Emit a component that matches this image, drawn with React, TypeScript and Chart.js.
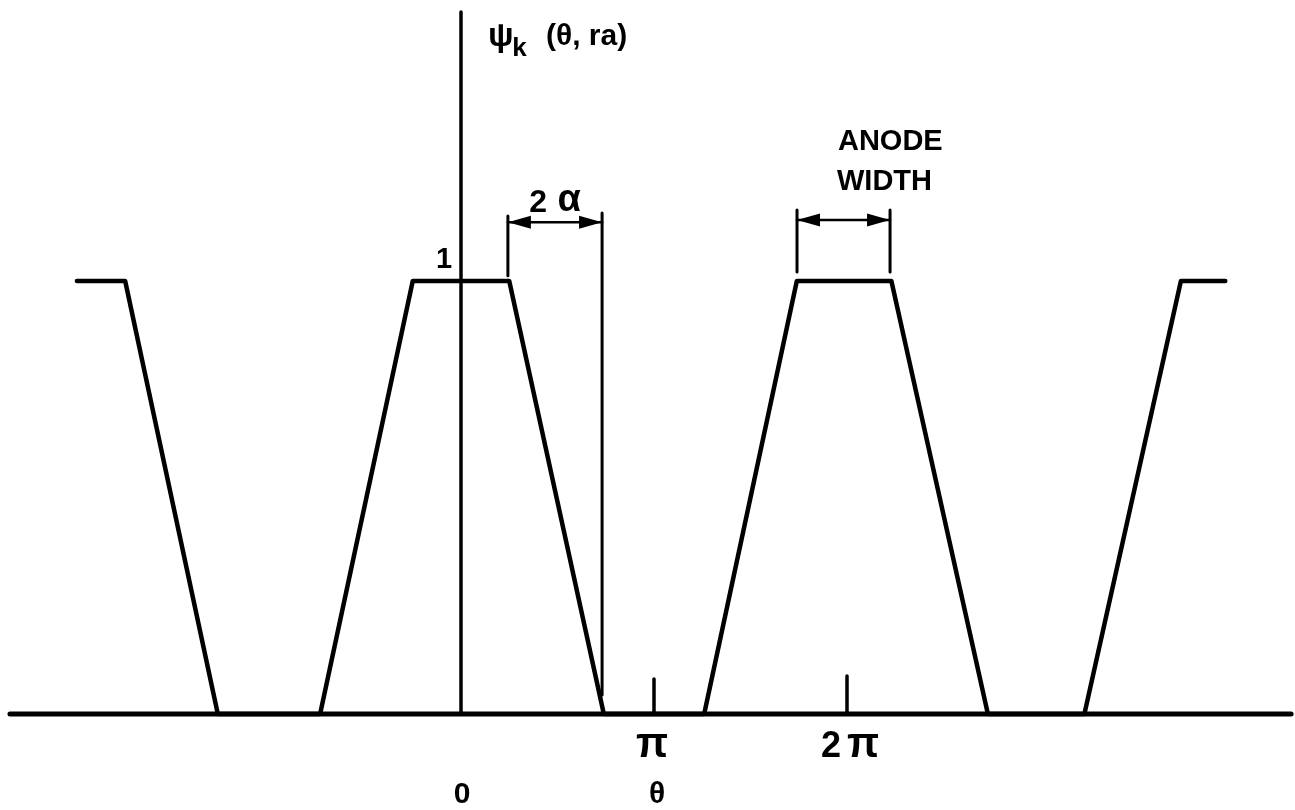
import React, { useEffect, useRef } from "react";
import { Chart, registerables } from "chart.js";

Chart.register(...registerables);

// θ expressed in units of π, ψ normalised (top of anode = 1)
const waveTheta = [-1.99, -1.74, -1.26, -0.73, -0.25, 0.25, 0.74, 1.26, 1.74, 2.23, 2.73, 3.23, 3.73, 3.96];
const wavePsi = [1, 1, 0, 0, 1, 1, 0, 0, 1, 1, 0, 0, 1, 1];

const thetaAxisRange = [-2.337, 4.301];
const psiAxisTop = 1.621;

const tickTheta = [1, 2];
const tickTop = [0.081, 0.088];
const tickCoef = ["", "2"];
const tickSymbol = ["π", "π"];

// dimension markers: 2α (edge slope width) and anode width
const alphaTheta = [0.243, 0.731];
const alphaLeftSpan = [1.012, 1.15];
const alphaRightSpan = [0.044, 1.157];
const alphaArrowPsi = 1.136;

const anodeTheta = [1.741, 2.223];
const anodeSpan = [1.021, 1.164];
const anodeArrowPsi = 1.141;

const X_MIN = -2.3886;
const X_MAX = 4.3212;
const Y_MIN = -0.2217;
const Y_MAX = 1.649;

const FONT = '"Liberation Sans", Arial, sans-serif';

type Label = { text: string; x: number; y: number; size: number; align: CanvasTextAlign };

const labels: Label[] = [
  { text: "ψ", x: 0.14, y: 1.543, size: 34, align: "left" },
  { text: "k", x: 0.266, y: 1.52, size: 26, align: "left" },
  { text: "(θ, ra)", x: 0.44, y: 1.545, size: 30, align: "left" },
  { text: "1", x: -0.088, y: 1.03, size: 29, align: "center" },
  { text: "2", x: 0.4, y: 1.159, size: 32, align: "center" },
  { text: "α", x: 0.56, y: 1.162, size: 38, align: "center" },
  { text: "ANODE", x: 1.953, y: 1.303, size: 29, align: "left" },
  { text: "WIDTH", x: 1.948, y: 1.21, size: 29, align: "left" },
  { text: "0", x: 0.005, y: -0.2055, size: 30, align: "center" },
  { text: "θ", x: 1.016, y: -0.2055, size: 30, align: "center" },
];

const seg = (pts: number[][]) => pts.map(([x, y]) => ({ x, y }));

const annotPlugin = {
  id: "annot",
  afterDatasetsDraw(chart: any) {
    const { ctx, scales } = chart;
    const px = (v: number) => scales.x.getPixelForValue(v);
    const py = (v: number) => scales.y.getPixelForValue(v);
    ctx.save();
    ctx.fillStyle = "#000";
    const head = (tipX: number, yy: number, dir: number) => {
      ctx.beginPath();
      ctx.moveTo(tipX, yy);
      ctx.lineTo(tipX + dir * 23, yy - 6.5);
      ctx.lineTo(tipX + dir * 23, yy + 6.5);
      ctx.closePath();
      ctx.fill();
    };
    head(px(alphaTheta[0]), py(alphaArrowPsi), 1);
    head(px(alphaTheta[1]), py(alphaArrowPsi), -1);
    head(px(anodeTheta[0]), py(anodeArrowPsi), 1);
    head(px(anodeTheta[1]), py(anodeArrowPsi), -1);

    ctx.textBaseline = "alphabetic";
    for (const l of labels) {
      ctx.font = `bold ${l.size}px ${FONT}`;
      ctx.textAlign = l.align;
      ctx.fillText(l.text, px(l.x), py(l.y));
    }
    // tick labels: coefficient + π, centred on the tick
    ctx.textAlign = "left";
    const base = py(-0.099);
    const coefFont = `bold 36px ${FONT}`;
    const symFont = `bold 42px ${FONT}`;
    tickTheta.forEach((t, i) => {
      ctx.font = coefFont;
      const cw = tickCoef[i] ? ctx.measureText(tickCoef[i]).width + 6 : 0;
      ctx.font = symFont;
      const sw = ctx.measureText(tickSymbol[i]).width;
      const start = px(t) - (cw + sw) / 2 + (tickCoef[i] ? 3 : -2);
      if (tickCoef[i]) {
        ctx.font = coefFont;
        ctx.fillText(tickCoef[i], start, base);
      }
      ctx.font = symFont;
      ctx.fillText(tickSymbol[i], start + cw, base);
    });
    ctx.restore();
  },
};

export default function App() {
  const ref = useRef<HTMLCanvasElement | null>(null);
  useEffect(() => {
    document.body.style.margin = "0";
    const black = "#000";
    const line = (data: any[], width: number) => ({
      data,
      showLine: true,
      borderColor: black,
      backgroundColor: black,
      borderWidth: width,
      pointRadius: 0,
      borderCapStyle: "round",
      borderJoinStyle: "round",
      tension: 0,
      clip: false,
    });
    const datasets: any[] = [
      line(seg([[thetaAxisRange[0], 0], [thetaAxisRange[1], 0]]), 5),
      line(seg([[0, 0], [0, psiAxisTop]]), 3.5),
      line(waveTheta.map((t, i) => ({ x: t, y: wavePsi[i] })), 4.5),
      ...tickTheta.map((t, i) => line(seg([[t, 0], [t, tickTop[i]]]), 3.5)),
      line(seg([[alphaTheta[0], alphaLeftSpan[0]], [alphaTheta[0], alphaLeftSpan[1]]]), 3),
      line(seg([[alphaTheta[1], alphaRightSpan[0]], [alphaTheta[1], alphaRightSpan[1]]]), 3),
      line(seg([[alphaTheta[0], alphaArrowPsi], [alphaTheta[1], alphaArrowPsi]]), 2.5),
      line(seg([[anodeTheta[0], anodeSpan[0]], [anodeTheta[0], anodeSpan[1]]]), 3),
      line(seg([[anodeTheta[1], anodeSpan[0]], [anodeTheta[1], anodeSpan[1]]]), 3),
      line(seg([[anodeTheta[0], anodeArrowPsi], [anodeTheta[1], anodeArrowPsi]]), 2.5),
    ];
    const chart = new Chart(ref.current!, {
      type: "scatter",
      data: { datasets },
      options: {
        animation: false,
        responsive: false,
        layout: { padding: 0 },
        plugins: { legend: { display: false }, tooltip: { enabled: false } },
        scales: {
          x: { type: "linear", min: X_MIN, max: X_MAX, display: false },
          y: { type: "linear", min: Y_MIN, max: Y_MAX, display: false },
        },
      },
      plugins: [annotPlugin],
    } as any);
    return () => chart.destroy();
  }, []);
  return (
    <div style={{ width: 1295, height: 810, background: "#fff" }}>
      <canvas ref={ref} width={1295} height={810} />
    </div>
  );
}
